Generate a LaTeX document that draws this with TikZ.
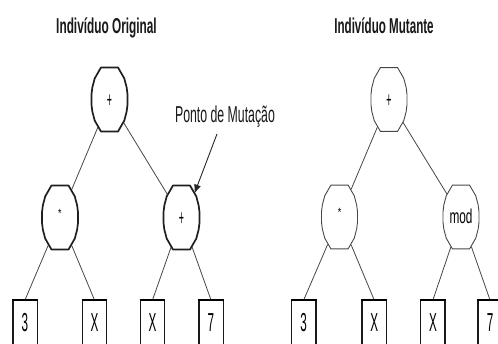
\documentclass[tikz,border=0pt]{standalone}
\usepackage{fontspec}
\setmainfont{Liberation Sans}
\usepackage{graphicx}
\usetikzlibrary{shapes.geometric,arrows.meta}
% condensed text: size, horizontal squeeze, content
\newcommand\narrowtxt[3]{{\fontsize{#1}{#1}\selectfont\scalebox{#2}[1]{#3}}}
\newcommand\plussign{\raisebox{-7.6pt}{\narrowtxt{22pt}{0.4}{+}}}
\newcommand\starsign{\raisebox{0.3pt}{\narrowtxt{12pt}{0.75}{*}}}
\newcommand\leaftxt[1]{\narrowtxt{26pt}{0.45}{#1}}

\begin{document}
\begin{tikzpicture}[x=1pt,y=-1pt,
  opnode/.style={ellipse,minimum width=36pt,minimum height=72pt,inner sep=0pt,
    text height=0pt,text depth=0pt},
  leaf/.style={rectangle,minimum width=24pt,minimum height=44pt,inner sep=0pt,anchor=north},
  branch/.style={draw=black!72,line width=0.8pt},
  heavyrim/.style={draw=black!88,line width=1.7pt,line join=round},
  lightrim/.style={draw=black!72,line width=0.9pt,line join=round},
  boxside/.style={draw=black!90,line width=1.4pt},
  boxtop/.style={draw=black,line width=2.2pt},
  heading/.style={anchor=base,inner sep=0pt,text=black!90},
  pointer/.style={draw=black!85,line width=0.9pt,-{Triangle[length=8pt,width=6.5pt]}},
]
\clip (0,0) rectangle (498,344);
\fill[white] (0,0) rectangle (498,344);

% headings
\node[heading] (t1) at (106.5,34) {\narrowtxt{21.5pt}{0.55}{\bfseries Indivíduo Original}};
\node[heading] (t2) at (384,34) {\narrowtxt{21.5pt}{0.54}{\bfseries Indivíduo Mutante}};

% original tree
\node[opnode] (a0) at (109.5,99.5) {\plussign};
\node[opnode] (a1) at (60,217.5) {\starsign};
\node[opnode] (a2) at (181.5,217.5) {\plussign};
\node[leaf] (a3) at (25,300) {\leaftxt{3}};
\node[leaf] (a4) at (94.5,300) {\leaftxt{X}};
\node[leaf] (a5) at (152.5,300) {\leaftxt{X}};
\node[leaf] (a6) at (211,300) {\leaftxt{7}};

% mutated tree
\node[opnode] (b0) at (389,99.5) {\plussign};
\node[opnode] (b1) at (339.5,217) {\starsign};
\node[opnode] (b2) at (461,217) {\raisebox{-7pt}{\narrowtxt{20pt}{0.59}{mod}}};
\node[leaf] (b3) at (303.7,300) {\leaftxt{3}};
\node[leaf] (b4) at (374.2,300) {\leaftxt{X}};
\node[leaf] (b5) at (432.9,300) {\leaftxt{X}};
\node[leaf] (b6) at (490,300) {\leaftxt{7}};

% branches
\foreach \p/\c in {a0/a1,a0/a2,b0/b1,b0/b2}
  \draw[branch] (\p) -- (\c);
\foreach \p/\c in {a1/a3,a1/a4,a2/a5,a2/a6,b1/b3,b1/b4,b2/b5,b2/b6}
  \draw[branch] (\p) -- (\c.north);

% faceted outlines of the operator nodes
\foreach \n in {a0,a1,a2}
  \draw[heavyrim] (\n.15) -- (\n.35) -- (\n.55) -- (\n.75) -- (\n.105) -- (\n.125)
    -- (\n.145) -- (\n.165) -- (\n.195) -- (\n.215) -- (\n.235) -- (\n.255)
    -- (\n.285) -- (\n.305) -- (\n.325) -- (\n.345) -- cycle;
\foreach \n in {b0,b1,b2}
  \draw[lightrim] (\n.15) -- (\n.35) -- (\n.55) -- (\n.75) -- (\n.105) -- (\n.125)
    -- (\n.145) -- (\n.165) -- (\n.195) -- (\n.215) -- (\n.235) -- (\n.255)
    -- (\n.285) -- (\n.305) -- (\n.325) -- (\n.345) -- cycle;

% terminal boxes, open at the bottom
\foreach \b in {a3,a4,a5,a6,b3,b4,b5,b6} {
  \draw[boxside] ([yshift=-12pt]\b.south west) -- (\b.north west);
  \draw[boxside] ([yshift=-12pt]\b.south east) -- (\b.north east);
  \draw[boxtop] ([xshift=-0.7pt]\b.north west) -- ([xshift=0.7pt]\b.north east);
}

% mutation point marker
\node[heading] (mlabel) at (225,123) {\narrowtxt{23pt}{0.535}{Ponto de Mutação}};
\coordinate (mtail) at (217,134);
\draw[pointer] (mtail) -- (a2.62);
\end{tikzpicture}
\end{document}
